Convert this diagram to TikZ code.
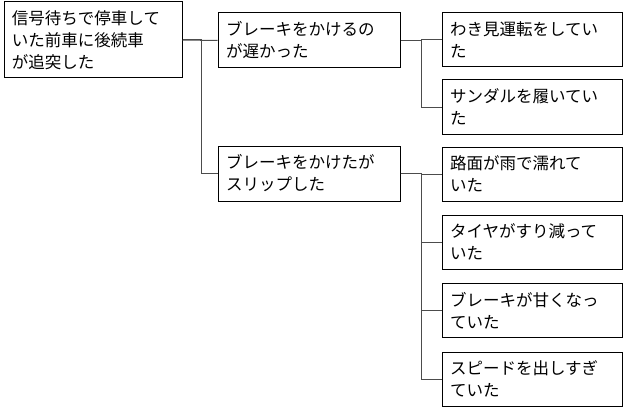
\documentclass[tikz,border=0pt]{standalone}
\usepackage{fontspec}
\setmainfont{Noto Sans CJK JP}
\usepackage{tikz}
\usetikzlibrary{positioning,calc}

\begin{document}
\begin{tikzpicture}[x=1pt, y=-1pt, thick]
    \tikzset{
        box/.style={draw=black, fill=white, rectangle, inner xsep=8pt, inner ysep=0pt, align=left, font=\fontsize{16.5}{22}\selectfont, line width=1pt},
        top/.style={box, text width=162pt, minimum height=76pt},
        cause/.style={box, text width=166pt, minimum height=55pt},
        leaf/.style={box, text width=164pt, minimum height=54pt},
        line/.style={draw, gray!60!black, line width=1pt}
    }
    \useasboundingbox (0,0) rectangle (624,412);

    % Left (the event)
    \node[top] (root) at (93, 40) {信号待ちで停車して\\いた前車に後続車\\が追突した};

    % Middle (first causes)
    \node[cause] (slow) at (309, 40.5) {ブレーキをかけるの\\が遅かった};
    \node[cause] (slip) at (309, 173.5) {ブレーキをかけたが\\スリップした};

    % Right (second causes)
    \node[leaf] (look) at (532, 40) {わき見運転をしてい\\た};
    \node[leaf] (sandal) at (532, 107) {サンダルを履いてい\\た};
    \node[leaf] (wet) at (532, 174) {路面が雨で濡れて\\いた};
    \node[leaf] (tire) at (532, 242) {タイヤがすり減って\\いた};
    \node[leaf] (brake) at (532, 310.5) {ブレーキが甘くなっ\\ていた};
    \node[leaf] (speed) at (532, 379) {スピードを出しすぎ\\ていた};

    % Tree connections
    \path[line] (root.east) -- (slow.west);
    \path[line] (root.east) -- ++(19,0) |- (slip.west);

    \path[line] (slow.east) -- ++(21,0) |- (look.west);
    \path[line] (slow.east) -- ++(21,0) |- (sandal.west);

    \path[line] (slip.east) -- ++(21,0) |- (wet.west);
    \path[line] (slip.east) -- ++(21,0) |- (tire.west);
    \path[line] (slip.east) -- ++(21,0) |- (brake.west);
    \path[line] (slip.east) -- ++(21,0) |- (speed.west);

\end{tikzpicture}
\end{document}
